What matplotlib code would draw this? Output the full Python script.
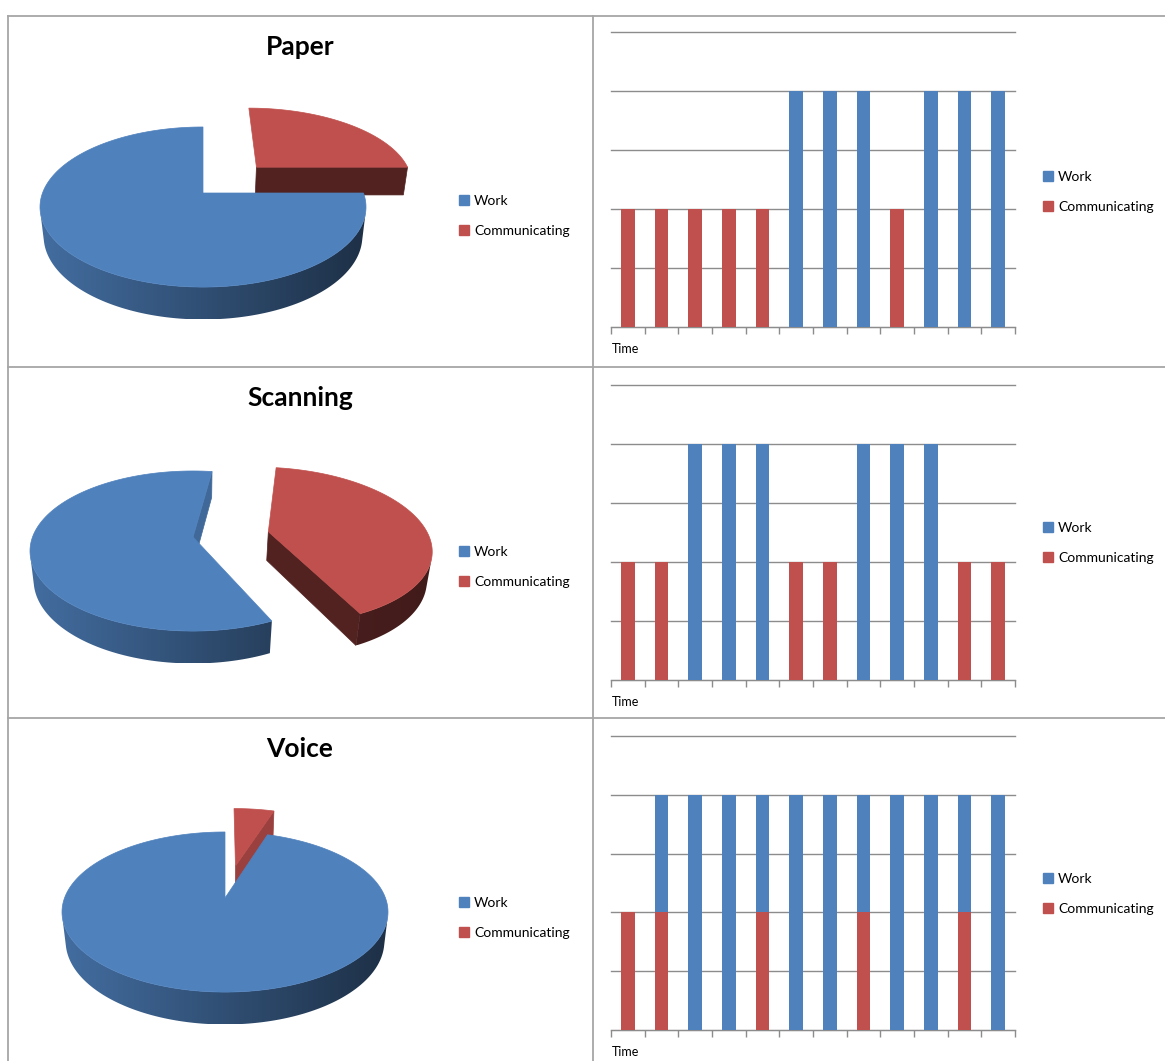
import numpy as np
import matplotlib
matplotlib.use('Agg')
import matplotlib.pyplot as plt
from matplotlib.patches import Polygon, Patch
from matplotlib.colors import to_rgb

# ---- data ----
titles = ['Paper', 'Scanning', 'Voice']
series_names = ['Work', 'Communicating']

# pie shares per mode of working
pie_work = [0.75, 0.59, 0.95]
pie_comm = [0.25, 0.41, 0.05]

# bar charts: 12 time slots, communicating stacked under work
paper_comm = [2, 2, 2, 2, 2, 0, 0, 0, 2, 0, 0, 0]
paper_work = [0, 0, 0, 0, 0, 4, 4, 4, 0, 4, 4, 4]
scan_comm = [2, 2, 0, 0, 0, 2, 2, 0, 0, 0, 2, 2]
scan_work = [0, 0, 4, 4, 4, 0, 0, 4, 4, 4, 0, 0]
voice_comm = [2, 2, 0, 0, 2, 0, 0, 2, 0, 0, 2, 0]
voice_work = [0, 2, 4, 4, 2, 4, 4, 2, 4, 4, 2, 4]

BLUE = '#4F81BD'
RED = '#C0504D'
GRID = '#8C8C8C'
BORDER = '#A6A6A6'

W, H = 1165, 1061
plt.rcParams['font.family'] = ['Lato', 'DejaVu Sans']

# ---- 3d pie helpers ----
ELEV = np.radians(31)
DIST = 5.0
THICK = 0.21
R_PX = 157.0
CAM = np.array([0.0, -DIST * np.cos(ELEV), DIST * np.sin(ELEV)])
WALL_SHADE = {BLUE: (0.38, 0.84), RED: (0.34, 0.48)}


def project(x, y, z):
    w = y * np.cos(ELEV) - z * np.sin(ELEV)
    s = DIST / (DIST + w)
    return x * s, (y * np.sin(ELEV) + z * np.cos(ELEV)) * s, w


def darker(col, k):
    return tuple(np.array(to_rgb(col)) * k)


def rim(ox, oy, angs, z):
    return [(ox + np.cos(a), oy + np.sin(a), z) for a in angs]


def draw_pie3d(ax, shares, colors, start, explode):
    pieces = []
    a = start
    for f, col, ex in zip(shares, colors, explode):
        t1, t2 = a - 360 * f, a
        a = t1
        mid = np.radians((t1 + t2) / 2)
        ox, oy = ex * np.cos(mid), ex * np.sin(mid)
        alpha = np.radians(t2 - t1)
        rc = 4 * np.sin(alpha / 2) / (3 * alpha)
        depth = oy + rc * np.sin(mid)
        ts = np.radians(np.linspace(t1, t2, max(int(t2 - t1), 2) + 1))
        polys = []
        # outer wall, split into the runs that face the camera
        vis = []
        for p0, p1 in zip(ts[:-1], ts[1:]):
            m = (p0 + p1) / 2
            n = np.array([np.cos(m), np.sin(m), 0])
            p = np.array([ox + np.cos(m), oy + np.sin(m), THICK / 2])
            vis.append(n.dot(CAM - p) > 0)
        runs, cur = [], None
        for j, ok in enumerate(vis):
            if ok and cur is None:
                cur = j
            if not ok and cur is not None:
                runs.append((cur, j))
                cur = None
        if cur is not None:
            runs.append((cur, len(vis)))
        for j0, j1 in runs:
            angs = ts[j0:j1 + 1]
            pts = rim(ox, oy, angs, THICK) + rim(ox, oy, angs[::-1], 0)
            polys.append(('wall', pts, col, ox))
        # cut faces (skip the ones seen nearly edge-on)
        for t, sgn in ((ts[0], 1), (ts[-1], -1)):
            n = sgn * np.array([np.sin(t), -np.cos(t), 0])
            p = np.array([ox + 0.5 * np.cos(t), oy + 0.5 * np.sin(t), THICK / 2])
            if n.dot(CAM - p) <= 0.45:
                continue
            pts = [(ox, oy, 0), (ox + np.cos(t), oy + np.sin(t), 0),
                   (ox + np.cos(t), oy + np.sin(t), THICK), (ox, oy, THICK)]
            polys.append(('flat', pts, darker(col, 0.42 + 0.4 * max(0, n[0])), None))
        polys.sort(key=lambda q: -np.mean(project(*np.array(q[1]).T)[2]))
        top = [(ox, oy, THICK)] + rim(ox, oy, ts, THICK)
        polys.append(('flat', top, col, None))
        pieces.append((depth, polys))
    pieces.sort(key=lambda q: -q[0])
    z = 1
    for _, polys in pieces:
        for kind, pts, c, ox in polys:
            arr = np.array(pts)
            u, v, _ = project(arr[:, 0], arr[:, 1], arr[:, 2])
            xy = np.column_stack([u, v])
            if kind == 'flat':
                ax.add_patch(Polygon(xy, closed=True, fc=c, ec=c, lw=0.5, zorder=z))
            else:
                # horizontal light-to-dark shading like the Excel wall
                lo, hi = WALL_SHADE[c]
                us = np.linspace(u.min(), u.max(), 200)
                k = lo + (hi - lo) * (1 - np.clip(us - ox, -1, 1)) / 2
                img = np.array(to_rgb(c))[None, None, :] * k[None, :, None]
                clip = Polygon(xy, closed=True, fc='none', ec='none', zorder=z)
                ax.add_patch(clip)
                im = ax.imshow(img, extent=(u.min(), u.max(), v.min(), v.max()), origin='lower',
                               aspect='auto', interpolation='bilinear', zorder=z)
                im.set_clip_path(clip)
            z += 1


def pie_axes(fig, box):
    x0, y0, bw, bh = box
    ax = fig.add_axes([x0 / W, 1 - (y0 + bh) / H, bw / W, bh / H])
    ax.axis('off')
    return ax


def place_pie(ax, box, apex):
    # line the pie centre up with its pixel spot in the cell
    x0, y0, bw, bh = box
    va = project(0.0, 0.0, THICK)[1]
    ax.set_xlim((x0 - apex[0]) / R_PX, (x0 + bw - apex[0]) / R_PX)
    ax.set_ylim(va - (y0 + bh - apex[1]) / R_PX, va + (apex[1] - y0) / R_PX)


def draw_bars(ax, comm, work):
    x = np.arange(len(comm))
    ax.bar(x, comm, width=0.4, color=RED, zorder=3)
    ax.bar(x, work, width=0.4, bottom=comm, color=BLUE, zorder=3)
    ax.set_xlim(-0.5, len(comm) - 0.5)
    ax.set_ylim(0, 5)
    ax.set_yticks(range(6))
    ax.yaxis.grid(True, color=GRID, lw=1)
    ax.tick_params(axis='y', length=0, labelleft=False)
    ax.set_xticks(np.arange(-0.5, len(comm)))
    ax.tick_params(axis='x', length=5, width=1, color=GRID, labelbottom=False)
    for s in ['top', 'right', 'left']:
        ax.spines[s].set_visible(False)
    ax.spines['bottom'].set_color(GRID)
    ax.set_axisbelow(True)
    for gl in ax.yaxis.get_gridlines():
        gl.set_clip_on(False)


def legend(fig, x, y):
    handles = [Patch(color=BLUE), Patch(color=RED)]
    fig.legend(handles, series_names, loc='center left', bbox_to_anchor=(x / W, 1 - y / H),
               frameon=False, borderpad=0, borderaxespad=0, handlelength=0.7, handleheight=0.7,
               handletextpad=0.4, labelspacing=1.3, fontsize=10)


fig = plt.figure(figsize=(W / 100, H / 100), dpi=100)

# table borders
bg = fig.add_axes([0, 0, 1, 1], zorder=-1)
bg.set_xlim(0, W)
bg.set_ylim(H, 0)
bg.axis('off')
bg.plot([8, W], [16, 16], color=BORDER, lw=1.3)
bg.plot([8, 8], [16, H], color=BORDER, lw=1.3)
bg.plot([593, 593], [16, H], color=BORDER, lw=1.3)
for yy in [367, 718]:
    bg.plot([8, W], [yy, yy], color=BORDER, lw=1.3)

row_top = [16, 367, 718]
apexes = [(203, 193), (193, 537), (225, 898)]
starts = [90, 82, 90]
explodes = [0.5, 0.48, 0.45]
bar_boxes = [(611, 32, 404, 295), (611, 385, 404, 295), (611, 736, 404, 294)]
bar_data = [(paper_comm, paper_work), (scan_comm, scan_work), (voice_comm, voice_work)]

for i in range(3):
    top = row_top[i]
    fig.text(300 / W, 1 - (top + 31) / H, titles[i], ha='center', va='center',
             fontsize=19, fontweight='bold')
    box = (12, top + 50, 440, 300)
    ax = pie_axes(fig, box)
    draw_pie3d(ax, [pie_comm[i], pie_work[i]], [RED, BLUE], starts[i], [explodes[i], 0.0])
    place_pie(ax, box, apexes[i])
    legend(fig, 459, top + 200)

    x0, y0, bw, bh = bar_boxes[i]
    bax = fig.add_axes([x0 / W, 1 - (y0 + bh) / H, bw / W, bh / H])
    draw_bars(bax, *bar_data[i])
    fig.text(612 / W, 1 - (y0 + bh + 22) / H, 'Time', ha='left', va='center', fontsize=9)
    legend(fig, 1043, top + 176)

fig.savefig('out.png', dpi=100)
